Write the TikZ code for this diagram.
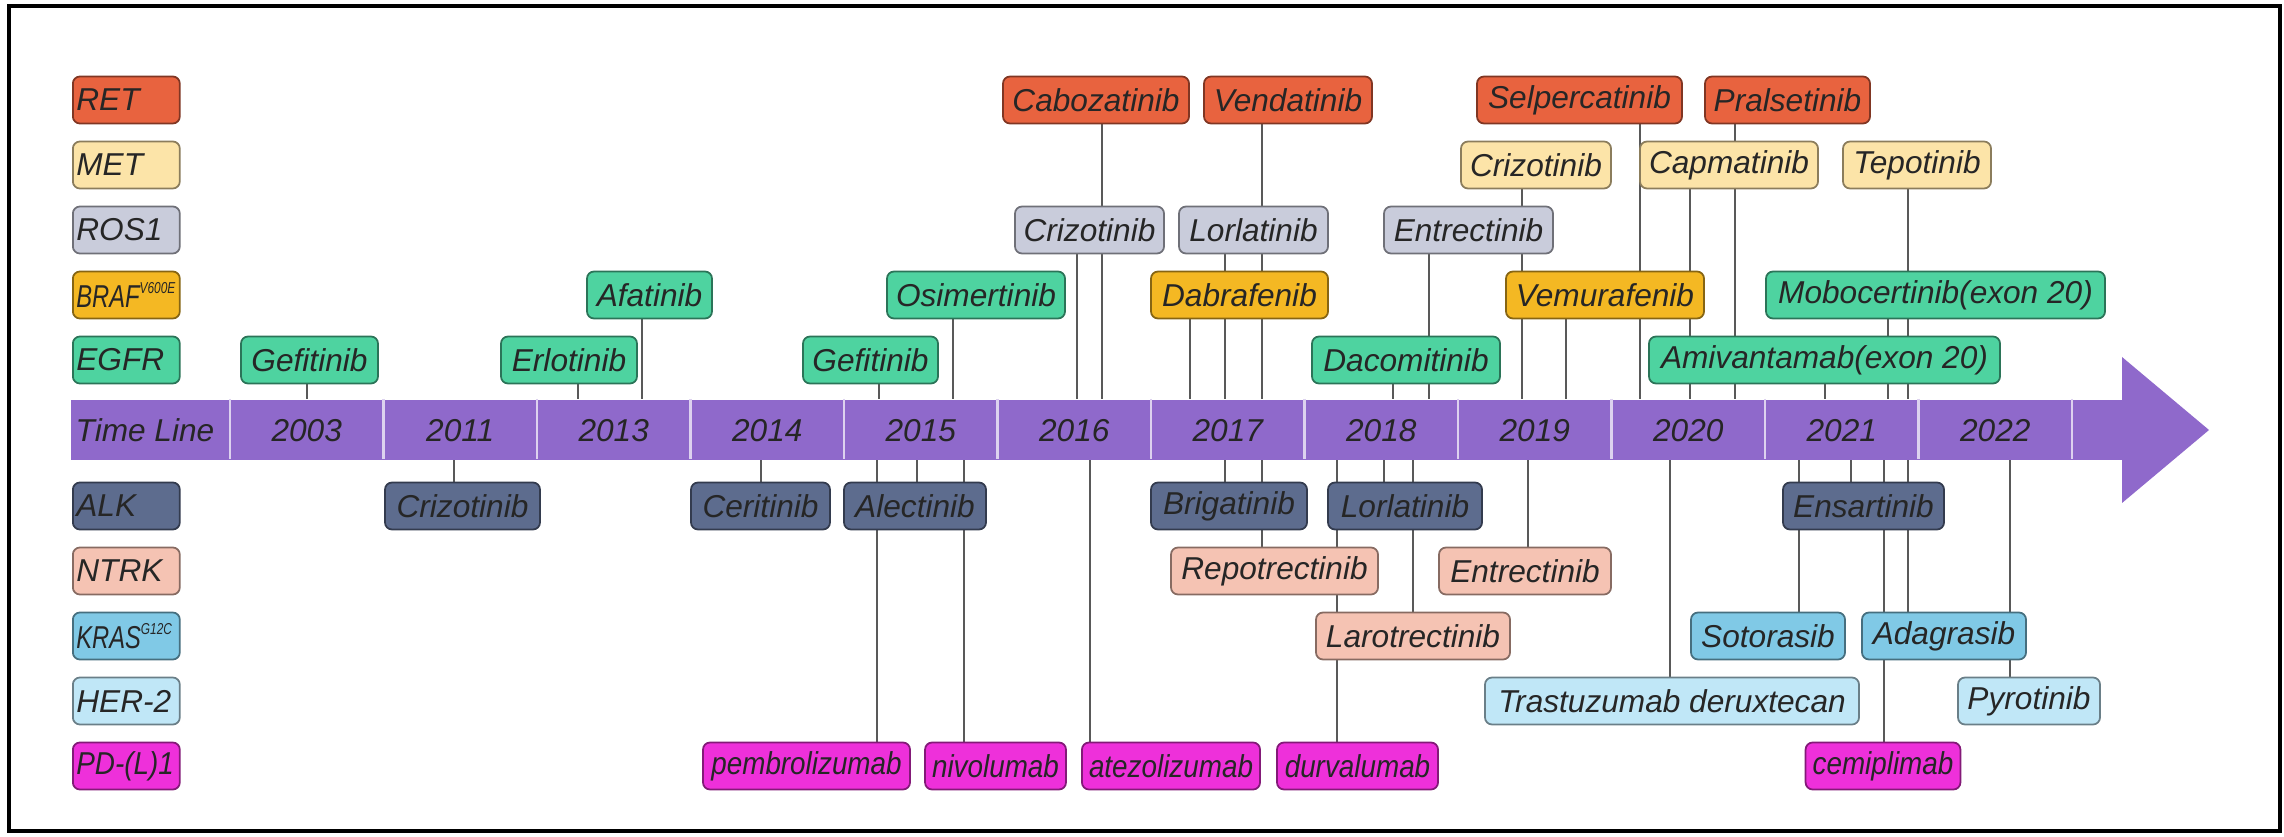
\documentclass[tikz,border=0pt]{standalone}
\usepackage{fontspec}
\setmainfont{Liberation Sans}
\newfontfamily\narrowfont{Liberation Sans}[FakeStretch=0.88]
\newfontfamily\slimfont{Liberation Sans}[FakeStretch=0.75]
\usetikzlibrary{backgrounds}

\definecolor{cRET}{HTML}{E8633F}
\definecolor{cMET}{HTML}{FCE4A8}
\definecolor{cROS}{HTML}{C9CCDB}
\definecolor{cBRAF}{HTML}{F4B823}
\definecolor{cEGFR}{HTML}{4ED3A0}
\definecolor{cALK}{HTML}{5D6C8E}
\definecolor{cNTRK}{HTML}{F5C3B3}
\definecolor{cKRAS}{HTML}{80C9E6}
\definecolor{cHER}{HTML}{C0E7F7}
\definecolor{cPD}{HTML}{EE30DA}
\definecolor{cLine}{HTML}{8F69CB}

\newcommand\supsmall[1]{\textsuperscript{\fontsize{4.5}{5}\selectfont #1}}

\begin{document}
\begin{tikzpicture}[x=0.1mm,y=-0.1mm,
    box/.style={draw=#1!55!black,fill=#1,rounded corners=2pt,line width=0.5pt,
      minimum height=4.7mm,inner xsep=2pt,inner ysep=0pt,
      font=\fontsize{9}{10}\selectfont\itshape,text=black!85},
    yr/.style={font=\fontsize{9}{10}\selectfont\itshape,text=black!85,inner sep=0pt},
    tick/.style={draw=black!65,line width=0.6pt}]
\useasboundingbox (0,0) rectangle (2284,837);
\draw[line width=0.9pt] (9,6) rectangle (2280,831);

% time line arrow
\node[fill=cLine,minimum width=205.3mm,minimum height=6mm,inner sep=0pt,anchor=north west] (band) at (70,399) {};
\fill[cLine] (2122,357) -- (2209,430) -- (2122,503) -- cycle;
\foreach \k in {0,...,12}
  \draw[white!70!cLine,line width=0.6pt] ({230+153.5*\k},399) -- ({230+153.5*\k},459);
\node[yr,anchor=west] (tl) at (75,430) {Time Line};
\foreach \yy [count=\k from 0] in {2003,2011,2013,2014,2015,2016,2017,2018,2019,2020,2021,2022}
  \node[yr] (y\yy) at ({306.75+153.5*\k},431) {\yy};

% legend
\foreach \n/\c/\lab/\y in {lret/cRET/RET/100, lmet/cMET/MET/165, lros/cROS/ROS1/230,
    lbraf/cBRAF/{\slimfont BRAF\supsmall{V600E}}/295, legfr/cEGFR/EGFR/360,
    lalk/cALK/ALK/506, lntrk/cNTRK/NTRK/571, lkras/cKRAS/{\slimfont KRAS\supsmall{G12C}}/636,
    lher/cHER/HER-2/701, lpd/cPD/{\narrowfont PD-(L)1}/766}
  \node[box=\c,anchor=west,inner xsep=1pt,text width=9.99mm,align=left] (\n) at (72,\y) {\lab};

% drugs above the line
\foreach \n/\c/\lab/\l/\r/\y in {gefA/cEGFR/Gefitinib/241/378/360, erlo/cEGFR/Erlotinib/501/637/360,
    afat/cEGFR/Afatinib/587/712/295, gefB/cEGFR/Gefitinib/803/938/360,
    osim/cEGFR/Osimertinib/887/1065/295, cabo/cRET/Cabozatinib/1003/1189/100,
    crizR/cROS/Crizotinib/1015/1164/230, vand/cRET/Vendatinib/1204/1372/100,
    lorR/cROS/Lorlatinib/1179/1328/230, dabr/cBRAF/Dabrafenib/1151/1328/295,
    entR/cROS/Entrectinib/1384/1553/230, daco/cEGFR/Dacomitinib/1312/1500/360,
    crizM/cMET/Crizotinib/1461/1611/165, selp/cRET/Selpercatinib/1477/1682/100,
    vemu/cBRAF/Vemurafenib/1506/1704/295, pral/cRET/Pralsetinib/1705/1870/100,
    capm/cMET/Capmatinib/1640/1818/165, tepo/cMET/Tepotinib/1843/1991/165,
    mobo/cEGFR/Mobocertinib(exon 20)/1766/2105/295, amiv/cEGFR/Amivantamab(exon 20)/1649/2000/360}
  \node[box=\c,minimum width={(\r-\l)*0.1mm}] (\n) at ({(\l+\r)/2},\y) {\lab};

% drugs below the line
\foreach \n/\c/\lab/\l/\r/\y in {crizA/cALK/Crizotinib/385/540/506, ceri/cALK/Ceritinib/691/830/506,
    alec/cALK/Alectinib/844/986/506, pemb/cPD/{\narrowfont pembrolizumab}/703/910/766,
    nivo/cPD/{\narrowfont nivolumab}/926/1065/766, atez/cPD/{\narrowfont atezolizumab}/1082/1260/766,
    brig/cALK/Brigatinib/1151/1307/506, repo/cNTRK/Repotrectinib/1171/1378/571,
    lorA/cALK/Lorlatinib/1328/1482/506, durv/cPD/{\narrowfont durvalumab}/1277/1438/766,
    laro/cNTRK/Larotrectinib/1316/1510/636, entN/cNTRK/Entrectinib/1439/1611/571,
    tras/cHER/Trastuzumab deruxtecan/1485/1859/701, ensa/cALK/Ensartinib/1783/1944/506,
    soto/cKRAS/Sotorasib/1691/1845/636, adag/cKRAS/Adagrasib/1862/2026/636,
    cemi/cPD/{\narrowfont cemiplimab}/1806/1960/766, pyro/cHER/Pyrotinib/1958/2100/701}
  \node[box=\c,minimum width={(\r-\l)*0.1mm}] (\n) at ({(\l+\r)/2},\y) {\lab};

% connectors
\begin{scope}[on background layer]
\foreach \x/\n in {307/gefA, 578/erlo, 642/afat, 879/gefB, 953/osim, 1102/cabo, 1077/crizR,
    1262/vand, 1225/lorR, 1190/dabr, 1429/entR, 1393/daco, 1522/crizM, 1640/selp,
    1566/vemu, 1735/pral, 1690/capm, 1908/tepo, 1888/mobo, 1825/amiv}
  \draw[tick] (band.north -| \x,0) -- (\n.center -| \x,0);
\foreach \x/\n in {454/crizA, 761/ceri, 917/alec, 877/pemb, 964/nivo, 1090/atez, 1225/brig,
    1262/repo, 1384/lorA, 1337/durv, 1413/laro, 1528/entN, 1670/tras, 1851/ensa,
    1799/soto, 1908/adag, 1884/cemi, 2010/pyro}
  \draw[tick] (band.south -| \x,0) -- (\n.center -| \x,0);
\end{scope}
\end{tikzpicture}
\end{document}
